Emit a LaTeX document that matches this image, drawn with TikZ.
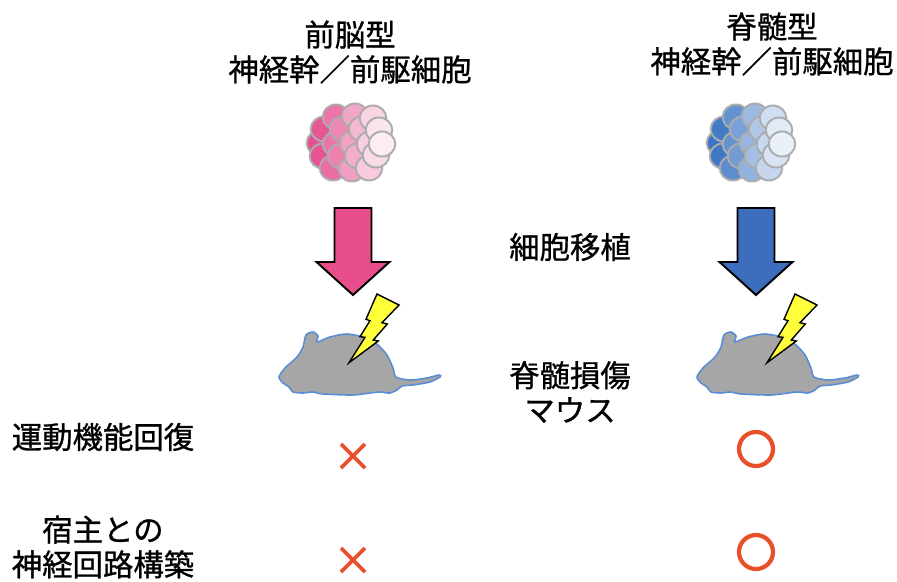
\documentclass[tikz,border=0pt]{standalone}
\usepackage{fontspec}
\setmainfont{Noto Sans CJK JP}[FakeBold=0.9]

\definecolor{pinkcell}{HTML}{E64E90}
\definecolor{bluecell}{HTML}{3A74C4}
\definecolor{pinkarrow}{HTML}{E84E8C}
\definecolor{bluearrow}{HTML}{3D6EBE}
\definecolor{mousegray}{HTML}{A6A6A6}
\definecolor{mouseline}{HTML}{5A8DD4}
\definecolor{boltyellow}{HTML}{FFFF3C}
\definecolor{markred}{HTML}{E8502A}

\begin{document}
\begin{tikzpicture}[x=0.02cm,y=-0.02cm,
    label/.style={font=\fontsize{17.3}{19.8}\selectfont,align=center,inner sep=0pt},
    cell/.style={draw=gray!65,line width=1.1pt},
    bigarrow/.style={draw=black,line width=1.1pt,line join=miter},
    mouse/.style={fill=mousegray,draw=mouseline,line width=0.9pt},
    bolt/.style={fill=boltyellow,draw=black,line width=0.8pt,line join=miter},
    resmark/.style={draw=markred,line width=2.2pt}]
  \useasboundingbox (0,0) rectangle (897,582);

  % column heads
  \node[label] (fore)  at (350,52) {前脳型\\神経幹／前駆細胞};
  \node[label] (spine) at (772,44) {脊髄型\\神経幹／前駆細胞};

  % cell clusters, colour fading to white on the right
  \foreach \cx/\cc in {350/pinkcell,750/bluecell}{
    \foreach \dx/\dy in {-30/1,-27/14,-26/-13,-17/26,-14/-25,-14/2,-9/14,-7/-13,
                         2/27,3/1,5/-26,8/14,12/-13,20/2,19/26,23/-24,26/13,29/-12,32/2}{
      \pgfmathtruncatemacro\p{min(100,max(0,(40-\dx)*1.45))}
      \draw[cell,fill=\cc!\p!white] (\cx+\dx,142+\dy) ellipse [x radius=13.3,y radius=12.5];
    }
  }

  % transplant arrows
  \foreach \ax/\ac in {353/pinkarrow,756/bluearrow}
    \draw[bigarrow,fill=\ac] (\ax-18.5,208) -- (\ax+18.5,208) -- (\ax+18.5,262)
      -- (\ax+36.5,262) -- (\ax,295) -- (\ax-36.5,262) -- (\ax-18.5,262) -- cycle;
  \node[label] (transplant) at (570,247) {細胞移植};

  % injured mice with lightning bolts
  \foreach \mx in {0,418}{
    \begin{scope}[shift={(\mx,0)}]
      \draw[mouse] plot[smooth cycle,tension=0.45] coordinates {
        (279,377) (285,368) (297,357) (303,347) (306,335) (313,332) (318,336)
        (317,342) (330,337) (347,334) (367,338) (378,345) (387,355) (393,368)
        (396,377) (410,380) (427,378) (439,375) (440,377) (430,382) (413,385)
        (402,386) (397,390) (390,393) (380,392) (370,393) (353,395) (323,394)
        (313,392) (303,393) (293,392) (289,387) (283,383)};
      \draw[bolt] (377,294) -- (399,305) -- (382,322.7) -- (387.3,324) -- (373.3,340)
        -- (378.3,341) -- (349,362.7) -- (365,337.3) -- (360,336.7) -- (370,320.7)
        -- (366,319.3) -- cycle;
    \end{scope}
  }
  \node[label] (injury) at (570,392) {脊髄損傷\\マウス};

  % outcomes
  \node[label] (motor)   at (103,437) {運動機能回復};
  \node[label] (circuit) at (103,547) {宿主との\\神経回路構築};
  \foreach \my in {456,560}
    \draw[resmark] (341,\my-12) -- (365,\my+12) (341,\my+12) -- (365,\my-12);
  \foreach \my in {449,552}
    \draw[resmark,line width=2.4pt] (756,\my) circle [radius=17];
\end{tikzpicture}
\end{document}
